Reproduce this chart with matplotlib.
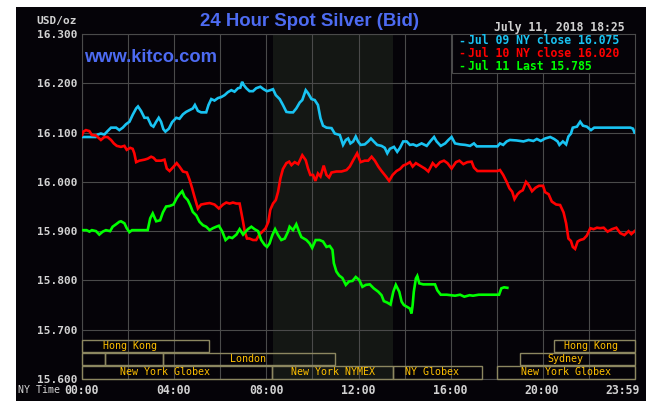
import matplotlib
matplotlib.use("Agg")
import matplotlib.pyplot as plt
from matplotlib.patches import Rectangle

# ---------------------------------------------------------------------------
# DATA — hours since midnight (NY time) and bid price in USD/oz
# ---------------------------------------------------------------------------
JUL09_H = [0.00, 0.60, 0.68, 0.82, 0.97, 1.11, 1.26, 1.48, 1.62, 1.77, 1.91, 2.06, 2.20, 2.35, 2.43,
           2.56, 2.71, 2.85, 3.00, 3.10, 3.22, 3.33, 3.43, 3.53, 3.62, 3.77, 3.91, 4.09, 4.23, 4.38,
           4.52, 4.81, 4.90, 5.03, 5.17, 5.39, 5.49, 5.61, 5.75, 5.90, 6.04, 6.19, 6.33, 6.48, 6.62,
           6.77, 6.87, 6.95, 7.01, 7.13, 7.27, 7.42, 7.56, 7.74, 7.88, 8.03, 8.17, 8.29, 8.41, 8.58,
           8.72, 8.87, 9.01, 9.16, 9.30, 9.45, 9.56, 9.71, 9.81, 9.96, 10.10, 10.24, 10.35, 10.46,
           10.61, 10.83, 10.97, 11.19, 11.33, 11.45, 11.55, 11.65, 11.77, 11.88, 11.98, 12.09, 12.27,
           12.42, 12.54, 12.66, 12.81, 13.00, 13.14, 13.25, 13.36, 13.54, 13.68, 13.80, 13.94, 14.09,
           14.23, 14.37, 14.52, 14.74, 14.96, 15.13, 15.28, 15.39, 15.57, 15.76, 15.90, 16.04, 16.19,
           16.41, 16.63, 16.84, 17.01, 17.13, 18.03, 18.14, 18.28, 18.43, 18.57, 18.86, 19.16, 19.38,
           19.59, 19.74, 19.91, 20.10, 20.32, 20.49, 20.64, 20.72, 20.87, 21.01, 21.11, 21.22, 21.30,
           21.48, 21.62, 21.74, 21.91, 22.09, 22.23, 22.49, 23.80, 23.91, 23.98]
JUL09_V = [16.091, 16.091, 16.096, 16.098, 16.096, 16.103, 16.110, 16.110, 16.105, 16.110, 16.117,
           16.122, 16.136, 16.149, 16.153, 16.144, 16.130, 16.130, 16.115, 16.112, 16.122, 16.130,
           16.122, 16.107, 16.102, 16.108, 16.121, 16.130, 16.128, 16.137, 16.142, 16.149, 16.156,
           16.144, 16.141, 16.141, 16.156, 16.168, 16.165, 16.170, 16.172, 16.176, 16.182, 16.186,
           16.183, 16.190, 16.191, 16.203, 16.197, 16.190, 16.184, 16.184, 16.190, 16.193, 16.188,
           16.184, 16.186, 16.188, 16.176, 16.168, 16.156, 16.142, 16.141, 16.141, 16.149, 16.161,
           16.166, 16.186, 16.180, 16.168, 16.166, 16.156, 16.129, 16.114, 16.110, 16.109, 16.098,
           16.095, 16.075, 16.085, 16.088, 16.078, 16.082, 16.092, 16.082, 16.075, 16.076, 16.082,
           16.088, 16.082, 16.075, 16.073, 16.069, 16.058, 16.067, 16.071, 16.061, 16.069, 16.082,
           16.082, 16.075, 16.076, 16.073, 16.078, 16.073, 16.083, 16.091, 16.082, 16.073, 16.078,
           16.085, 16.091, 16.078, 16.076, 16.075, 16.073, 16.078, 16.072, 16.072, 16.078, 16.075,
           16.082, 16.085, 16.084, 16.082, 16.085, 16.083, 16.087, 16.083, 16.088, 16.091, 16.087,
           16.082, 16.075, 16.082, 16.076, 16.092, 16.098, 16.110, 16.112, 16.122, 16.114, 16.112,
           16.105, 16.110, 16.110, 16.110, 16.108, 16.100]

JUL10_H = [0.00, 0.06, 0.17, 0.32, 0.43, 0.61, 0.75, 0.82, 0.97, 1.11, 1.26, 1.38, 1.51, 1.69, 1.84,
           1.94, 2.09, 2.20, 2.27, 2.35, 2.49, 2.71, 2.85, 3.00, 3.10, 3.22, 3.43, 3.58, 3.68, 3.80,
           3.94, 4.11, 4.23, 4.38, 4.55, 4.67, 4.78, 4.88, 5.03, 5.17, 5.39, 5.54, 5.75, 5.94, 6.12,
           6.26, 6.41, 6.55, 6.70, 6.84, 6.91, 6.99, 7.06, 7.16, 7.27, 7.42, 7.56, 7.68, 7.83, 7.97,
           8.09, 8.17, 8.29, 8.41, 8.51, 8.61, 8.72, 8.87, 8.99, 9.09, 9.23, 9.38, 9.48, 9.56, 9.71,
           9.81, 9.91, 10.03, 10.13, 10.24, 10.35, 10.49, 10.61, 10.72, 10.83, 11.04, 11.26, 11.48,
           11.62, 11.77, 11.94, 12.09, 12.27, 12.42, 12.57, 12.71, 12.86, 13.00, 13.19, 13.33, 13.48,
           13.65, 13.80, 13.94, 14.09, 14.23, 14.35, 14.49, 14.67, 14.88, 15.03, 15.22, 15.36, 15.54,
           15.71, 15.86, 16.04, 16.23, 16.38, 16.55, 16.72, 16.91, 17.01, 17.16, 18.03, 18.14, 18.28,
           18.43, 18.55, 18.67, 18.77, 18.90, 19.01, 19.13, 19.27, 19.38, 19.53, 19.68, 19.83, 20.01,
           20.10, 20.25, 20.39, 20.58, 20.75, 20.90, 21.01, 21.11, 21.22, 21.30, 21.40, 21.51, 21.62,
           21.77, 21.91, 22.06, 22.20, 22.35, 22.49, 22.64, 22.81, 23.00, 23.19, 23.36, 23.54, 23.72,
           23.84, 23.98]
JUL10_V = [16.095, 16.102, 16.105, 16.103, 16.095, 16.094, 16.088, 16.085, 16.091, 16.091, 16.085,
           16.078, 16.073, 16.071, 16.073, 16.065, 16.069, 16.067, 16.058, 16.040, 16.043, 16.045,
           16.047, 16.051, 16.049, 16.043, 16.043, 16.045, 16.027, 16.022, 16.029, 16.038, 16.031,
           16.021, 16.019, 16.004, 15.987, 15.970, 15.946, 15.954, 15.956, 15.957, 15.954, 15.946,
           15.954, 15.958, 15.956, 15.958, 15.956, 15.956, 15.939, 15.919, 15.900, 15.885, 15.885,
           15.882, 15.882, 15.892, 15.899, 15.906, 15.919, 15.943, 15.956, 15.963, 15.980, 16.007,
           16.026, 16.038, 16.041, 16.034, 16.040, 16.036, 16.046, 16.054, 16.044, 16.027, 16.014,
           16.014, 16.002, 16.017, 16.011, 16.033, 16.014, 16.009, 16.019, 16.021, 16.021, 16.024,
           16.031, 16.044, 16.058, 16.040, 16.043, 16.043, 16.051, 16.043, 16.031, 16.022, 16.011,
           16.002, 16.014, 16.022, 16.026, 16.033, 16.036, 16.040, 16.031, 16.038, 16.033, 16.027,
           16.021, 16.038, 16.031, 16.040, 16.043, 16.038, 16.027, 16.040, 16.043, 16.036, 16.040,
           16.041, 16.029, 16.022, 16.022, 16.024, 16.014, 16.000, 15.987, 15.980, 15.965, 15.975,
           15.980, 15.983, 16.000, 15.994, 15.981, 15.988, 15.992, 15.992, 15.979, 15.975, 15.960,
           15.954, 15.953, 15.938, 15.916, 15.885, 15.880, 15.868, 15.864, 15.879, 15.882, 15.884,
           15.891, 15.906, 15.904, 15.907, 15.906, 15.907, 15.899, 15.904, 15.907, 15.896, 15.892,
           15.900, 15.894, 15.900]

JUL11_H = [0.00, 0.20, 0.32, 0.43, 0.61, 0.75, 0.90, 1.04, 1.22, 1.33, 1.48, 1.62, 1.69, 1.84, 1.94,
           2.06, 2.17, 2.85, 2.96, 3.07, 3.22, 3.39, 3.51, 3.65, 3.80, 3.97, 4.11, 4.23, 4.35, 4.45,
           4.59, 4.70, 4.81, 4.96, 5.10, 5.25, 5.39, 5.54, 5.68, 5.83, 5.94, 6.09, 6.23, 6.38, 6.52,
           6.70, 6.84, 6.99, 7.10, 7.20, 7.35, 7.49, 7.64, 7.78, 7.93, 8.03, 8.14, 8.26, 8.38, 8.51,
           8.65, 8.80, 8.94, 9.01, 9.16, 9.30, 9.42, 9.52, 9.74, 9.88, 9.99, 10.14, 10.31, 10.46,
           10.61, 10.75, 10.87, 10.93, 11.04, 11.16, 11.30, 11.45, 11.59, 11.74, 11.88, 12.03, 12.17,
           12.32, 12.49, 12.66, 12.86, 13.00, 13.10, 13.25, 13.39, 13.51, 13.62, 13.77, 13.87, 13.97,
           14.12, 14.23, 14.30, 14.35, 14.40, 14.49, 14.55, 14.64, 14.81, 15.03, 15.32, 15.42, 15.57,
           15.83, 16.19, 16.41, 16.59, 16.82, 16.97, 17.22, 18.10, 18.20, 18.32, 18.46]
JUL11_V = [15.902, 15.902, 15.899, 15.902, 15.900, 15.893, 15.899, 15.902, 15.900, 15.909, 15.914,
           15.919, 15.920, 15.916, 15.906, 15.898, 15.902, 15.902, 15.926, 15.936, 15.920, 15.922,
           15.938, 15.950, 15.951, 15.954, 15.967, 15.975, 15.981, 15.970, 15.963, 15.952, 15.939,
           15.932, 15.919, 15.912, 15.909, 15.902, 15.906, 15.909, 15.911, 15.899, 15.882, 15.888,
           15.886, 15.893, 15.904, 15.893, 15.899, 15.904, 15.909, 15.904, 15.900, 15.882, 15.872,
           15.868, 15.875, 15.892, 15.904, 15.892, 15.882, 15.885, 15.899, 15.909, 15.902, 15.914,
           15.899, 15.888, 15.882, 15.875, 15.866, 15.882, 15.882, 15.879, 15.868, 15.870, 15.862,
           15.835, 15.818, 15.810, 15.805, 15.791, 15.798, 15.799, 15.807, 15.801, 15.787, 15.791,
           15.792, 15.784, 15.777, 15.770, 15.758, 15.755, 15.751, 15.777, 15.791, 15.777, 15.757,
           15.750, 15.746, 15.743, 15.733, 15.750, 15.777, 15.804, 15.809, 15.794, 15.792, 15.792,
           15.792, 15.780, 15.771, 15.771, 15.769, 15.771, 15.767, 15.770, 15.769, 15.771, 15.771,
           15.784, 15.786, 15.785]

LEGEND_LABELS = ["Jul 09 NY close 16.075", "Jul 10 NY close 16.020", "Jul 11 Last 15.785"]
Y_TICKS = [15.6, 15.7, 15.8, 15.9, 16.0, 16.1, 16.2, 16.3]
NY_TIME_LABELS = ["00:00", "04:00", "08:00", "12:00", "16:00", "20:00", "23:59"]
GMT_LABELS = ["04:00", "08:00", "12:00", "16:00", "20:00", "00:00", "03:59"]

# trading sessions: (name, row, start hour, end hour, label hour)
SESSIONS = [
    ("Hong Kong", 0, 0.0, 5.5, 2.1),
    ("Hong Kong", 0, 20.5, 24.0, 22.1),
    ("", 1, 0.0, 1.0, None),
    ("", 1, 1.0, 3.5, None),
    ("London", 1, 3.5, 11.0, 7.2),
    ("Sydney", 1, 19.0, 24.0, 21.0),
    ("New York Globex", 2, 0.0, 8.25, 3.6),
    ("New York NYMEX", 2, 8.25, 13.5, 10.9),
    ("NY Globex", 2, 13.5, 17.35, 15.2),
    ("New York Globex", 2, 18.0, 24.0, 21.0),
]

# ---------------------------------------------------------------------------
# STYLE
# ---------------------------------------------------------------------------
W, H = 662, 401
BG = "#050308"
GRID = "#4a4a4a"
SHADE = "#141714"
TXT = "#d2d2d2"
BOX = "#8c8760"
SESSION_TXT = "#ffc000"
BLUE = "#4d6bf2"
COLORS = ["#19c3f2", "#ff0000", "#00ff00"]
MONO = "DejaVu Sans Mono"


def px(x, y):
    """pixel position (from top-left) -> figure fraction"""
    return x / W, 1 - y / H


fig = plt.figure(figsize=(W / 100, H / 100), dpi=100, facecolor="white")
# black panel inside the thin white border
fig.patches.append(Rectangle((16 / W, 0), (646 - 16) / W, 1 - 7 / H,
                             transform=fig.transFigure, facecolor=BG,
                             edgecolor="none", zorder=-10))

ax = fig.add_axes([82 / W, 1 - 379 / H, (635 - 82) / W, (379 - 34) / H])
ax.set_facecolor(BG)
ax.set_xlim(0, 24)
ax.set_ylim(15.6, 16.3)
ax.axvspan(8.3, 13.5, color=SHADE, lw=0, zorder=0)

ax.set_xticks(range(0, 25, 2))
ax.set_xticklabels([])
ax.set_yticks(Y_TICKS)
ax.set_yticklabels([f"{v:.3f}" for v in Y_TICKS], family=MONO,
                   weight="bold", fontsize=8, color=TXT)
ax.tick_params(length=0, pad=3.5)
ax.grid(color=GRID, lw=0.8, zorder=1)
ax.set_axisbelow(True)
for s in ax.spines.values():
    s.set_color(GRID)
    s.set_linewidth(0.8)

series = [(JUL09_H, JUL09_V), (JUL10_H, JUL10_V), (JUL11_H, JUL11_V)]
for (hrs, vals), c in zip(series, COLORS):
    ax.plot(hrs, vals, color=c, lw=1.9, solid_joinstyle="miter", zorder=3)

# session boxes along the bottom
row_y = [(15.655, 15.679), (15.628, 15.653), (15.601, 15.626)]
for name, row, x0, x1, lx in SESSIONS:
    y0, y1 = row_y[row]
    ax.add_patch(Rectangle((x0, y0), x1 - x0, y1 - y0, fill=False,
                           edgecolor=BOX, lw=1, zorder=4, clip_on=False))
    if name:
        ax.text(lx, (y0 + y1) / 2, name, color=SESSION_TXT, family=MONO,
                fontsize=7.2, ha="center", va="center", zorder=5)

# legend box
ax.add_patch(Rectangle((0.669, 0.887), 0.331, 0.113, transform=ax.transAxes,
                       facecolor=BG, edgecolor=GRID, lw=0.8, zorder=6))
for i, (lab, c) in enumerate(zip(LEGEND_LABELS, COLORS)):
    y = 41 + i * 12.5
    fig.text(*px(458, y), "-", color=c, family=MONO, weight="bold",
             fontsize=8.3, va="center", ha="left")
    fig.text(*px(468, y), lab, color=c, family=MONO, weight="bold",
             fontsize=8.3, va="center", ha="left")

# titles and labels
fig.text(*px(310, 22), "24 Hour Spot Silver (Bid)", color=BLUE,
         family="Liberation Sans", weight="bold", fontsize=13.4,
         ha="center", va="center")
fig.text(*px(84, 57), "www.kitco.com", color=BLUE, family="Liberation Sans",
         weight="bold", fontsize=13.2, ha="left", va="center")
fig.text(*px(625, 27), "July 11, 2018 18:25", color=TXT, family=MONO,
         weight="bold", fontsize=8.3, ha="right", va="center")
fig.text(*px(77, 21), "USD/oz", color=TXT, family=MONO, weight="bold",
         fontsize=8, ha="right", va="center")

# time axis rows (GMT row is cut off by the image edge)
fig.text(*px(60, 390), "NY Time", color=TXT, family=MONO, fontsize=7.2,
         ha="right", va="center")
fig.text(*px(60, 407), "GMT", color=TXT, family=MONO, fontsize=7.2,
         ha="right", va="center")
tick_x = [81, 173, 266, 358, 450, 542, 623]
for x, ny, gmt in zip(tick_x, NY_TIME_LABELS, GMT_LABELS):
    fig.text(*px(x, 390), ny, color=TXT, family=MONO, weight="bold",
             fontsize=8.3, ha="center", va="center")
    fig.text(*px(x, 407), gmt, color=TXT, family=MONO, weight="bold",
             fontsize=8.3, ha="center", va="center")

fig.savefig("out.png", dpi=100, facecolor=fig.get_facecolor())
plt.close(fig)
